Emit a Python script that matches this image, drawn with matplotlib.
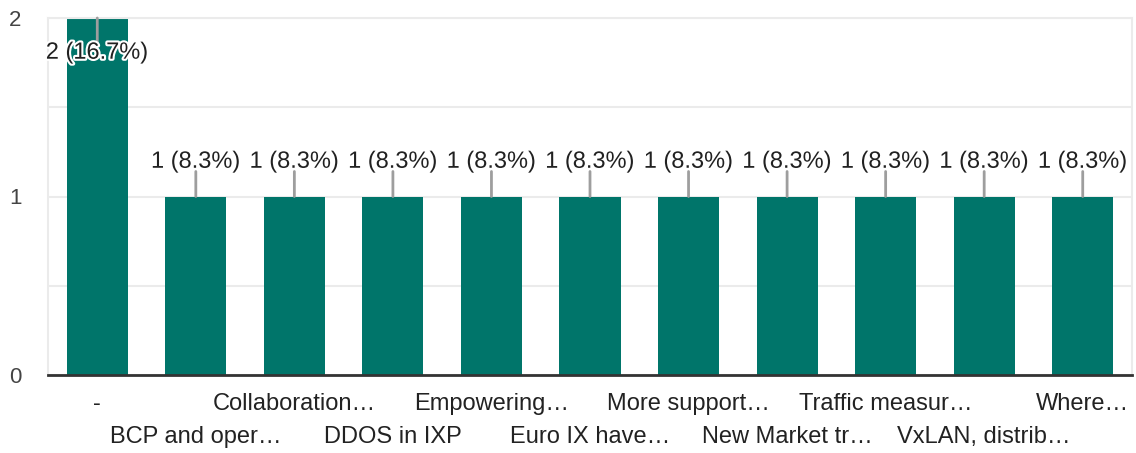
import matplotlib
matplotlib.use('Agg')
import matplotlib.pyplot as plt
import matplotlib.patheffects as pe

categories = ['-', 'BCP and oper…', 'Collaboration…', 'DDOS in IXP', 'Empowering…',
              'Euro IX have…', 'More support…', 'New Market tr…', 'Traffic measur…',
              'VxLAN, distrib…', 'Where…']
counts = [2, 1, 1, 1, 1, 1, 1, 1, 1, 1, 1]
percents = ['16.7%', '8.3%', '8.3%', '8.3%', '8.3%', '8.3%', '8.3%', '8.3%', '8.3%', '8.3%', '8.3%']

plt.rcParams['font.family'] = ['Liberation Sans', 'DejaVu Sans']

bar_color = '#00756a'
grid_color = '#ebebeb'

fig = plt.figure(figsize=(11.36, 4.53), dpi=100)
ax = fig.add_axes([48/1136, 1 - 375/453, 1084/1136, 357/453])

x = list(range(len(categories)))
ax.bar(x, counts, width=0.62, color=bar_color, zorder=2)

ax.set_xlim(-0.5, len(categories) - 0.5)
ax.set_ylim(0, 2)
ax.set_yticks([0, 1, 2])
ax.set_yticks([0.5, 1.5], minor=True)
ax.grid(axis='y', which='both', color=grid_color, lw=1.5, zorder=0)
ax.tick_params(axis='y', which='both', length=0, pad=19, labelsize=16, labelcolor='#444444')

ax.set_xticks(x)
ax.set_xticklabels(categories, fontsize=17, color='#222222')
ax.tick_params(axis='x', length=0)
for i, t in enumerate(ax.xaxis.get_major_ticks()):
    t.set_pad(13 if i % 2 == 0 else 37)

for side in ['left', 'right', 'top']:
    ax.spines[side].set_color(grid_color)
    ax.spines[side].set_linewidth(1.5)
ax.spines['bottom'].set_color('#333333')
ax.spines['bottom'].set_linewidth(2)
ax.spines['bottom'].set_zorder(3)

top = max(counts)
for xi, c, p in zip(x, counts, percents):
    sign = -1 if c >= top else 1
    ax.annotate('', xy=(xi, c), xytext=(0, sign * 18), textcoords='offset points',
                arrowprops=dict(arrowstyle='-', color='#9e9e9e', lw=2, shrinkA=0, shrinkB=0),
                zorder=4)
    ax.annotate(f'{c} ({p})', xy=(xi, c), xytext=(0, sign * 25), textcoords='offset points',
                ha='center', va='center', fontsize=17, color='#212121', zorder=5,
                path_effects=[pe.withStroke(linewidth=3, foreground='white')])

fig.savefig('out.png', dpi=100)
